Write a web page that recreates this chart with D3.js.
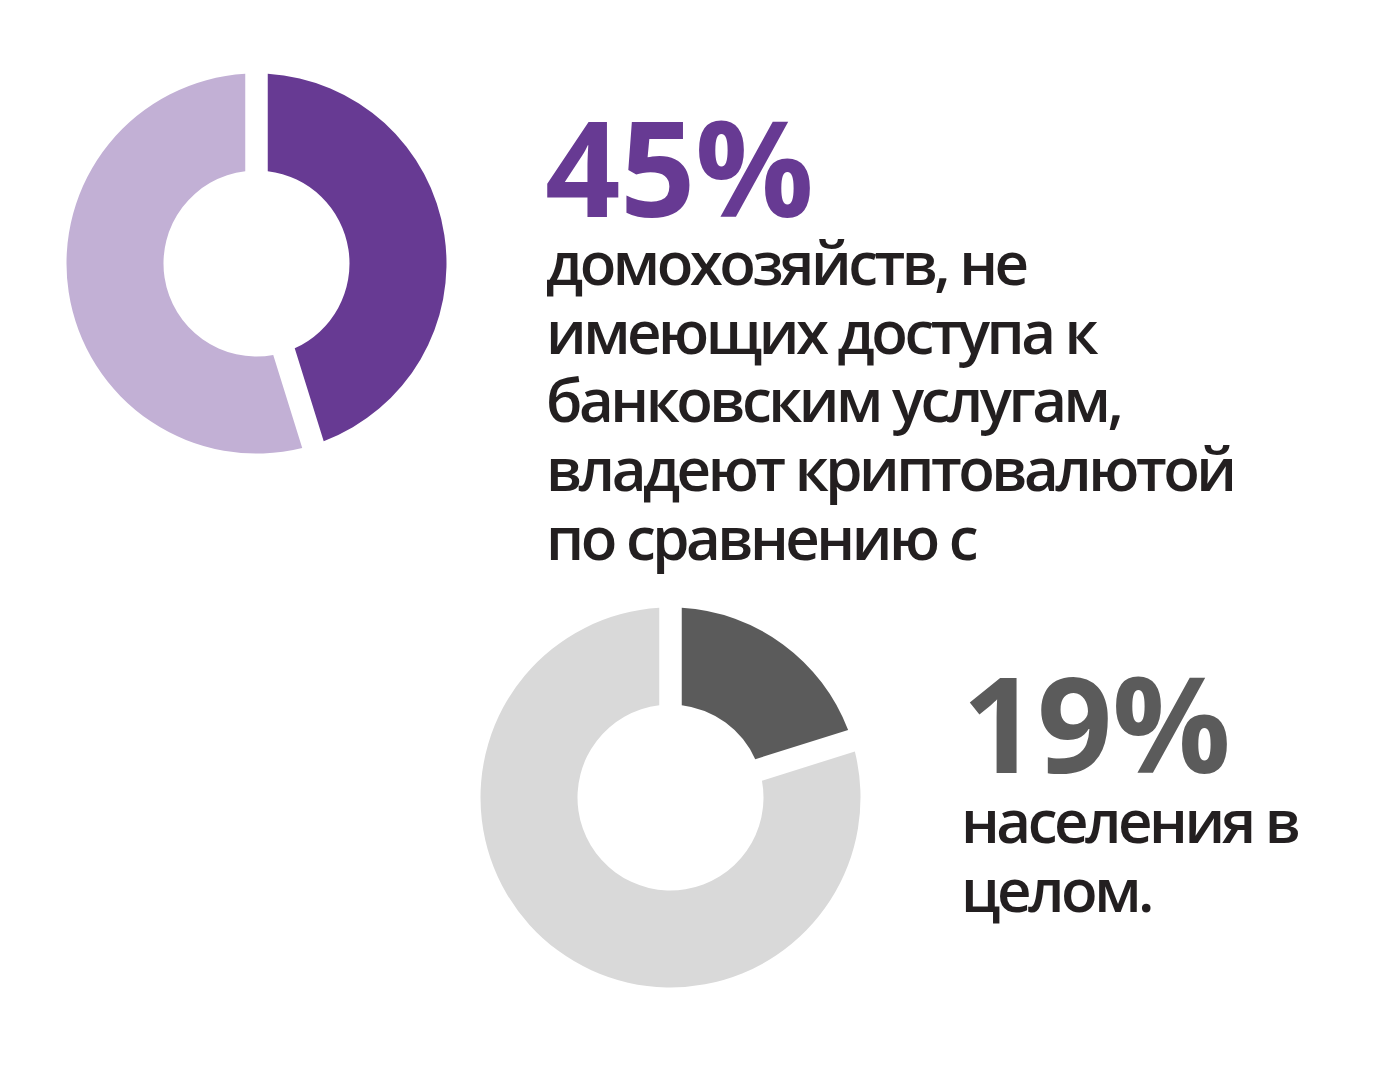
<!DOCTYPE html>
<html>
<head>
<meta charset="utf-8">
<script src="https://cdn.jsdelivr.net/npm/d3@7"></script>
<style>
  html, body { margin: 0; padding: 0; background: #fff; }
  svg { display: block; }
</style>
</head>
<body>
<svg id="chart" width="1383" height="1067"></svg>
<script>
// ---- data ----
const donutNames = ["unbanked", "population"];
const shareValues = [45, 19];
const restValues = [55, 81];
const bigLabels = ["45%", "19%"];
const caption1 = ["домохозяйств, не", "имеющих доступа к", "банковским услугам,", "владеют криптовалютой", "по сравнению с"];
const caption2 = ["населения в", "целом."];

// ---- layout / style ----
const layout = [
  { cx: 256.5, cy: 263.5, textX: 545, bigY: 217, captionX: 546, captionY: 285,
    colors: ["#673a93", "#c2b0d5"], bigColor: "#673a93", caption: caption1 },
  { cx: 670.5, cy: 797.5, textX: 962, bigY: 773, captionX: 961, captionY: 843,
    colors: ["#5b5b5b", "#d9d9d9"], bigColor: "#5b5b5b", caption: caption2 }
];
const outerR = 190, innerR = 93, gap = 22.5;
const lineH = 68.7;

const svg = d3.select("#chart");
const pie = d3.pie().sort(null).value(d => d.v).padAngle(2 * Math.asin(gap / 2 / outerR));
const arc = d3.arc().innerRadius(innerR).outerRadius(outerR).padRadius(outerR);

donutNames.forEach((name, i) => {
  const L = layout[i];
  const data = [{ k: "share", v: shareValues[i] }, { k: "rest", v: restValues[i] }];
  const color = d3.scaleOrdinal().domain(["share", "rest"]).range(L.colors);
  const g = svg.append("g").attr("class", "donut " + name)
    .attr("transform", `translate(${L.cx},${L.cy})`);
  g.selectAll("path").data(pie(data)).join("path")
    .attr("d", arc)
    .attr("fill", d => color(d.data.k));

  svg.append("text")
    .attr("x", L.textX).attr("y", L.bigY)
    .attr("font-family", "'Open Sans', sans-serif")
    .attr("font-weight", 700)
    .attr("font-size", 132)
    .attr("letter-spacing", -0.5)
    .attr("fill", L.bigColor)
    .text(bigLabels[i]);

  const t = svg.append("text")
    .attr("font-family", "'Open Sans', sans-serif")
    .attr("font-weight", 600)
    .attr("font-size", 60)
    .attr("letter-spacing", -3.5)
    .attr("fill", "#231f20");
  L.caption.forEach((line, j) => {
    t.append("tspan").attr("x", L.captionX).attr("y", L.captionY + j * lineH).text(line);
  });
});
</script>
</body>
</html>
